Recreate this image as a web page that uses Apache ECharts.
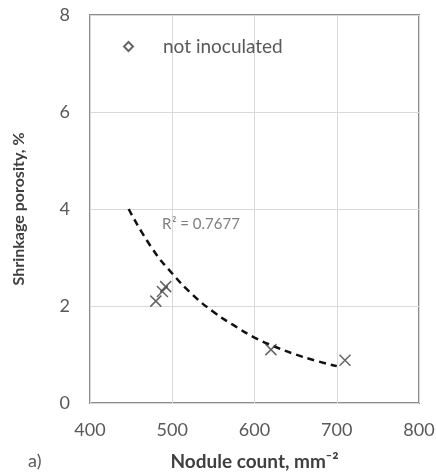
<!DOCTYPE html>
<html><head><meta charset="utf-8">
<script src="https://cdn.jsdelivr.net/npm/echarts@6/dist/echarts.min.js"></script>
<style>html,body{margin:0;padding:0;background:#fff}#c{width:436px;height:472px}</style>
</head><body><div id="c"></div>
<script>
var seriesName = 'not inoculated';
var nodules = [480, 488, 492, 620, 710];
var porosity = [2.1, 2.3, 2.4, 1.1, 0.88];
var trendX = [447, 475, 500, 525, 550, 575, 600, 625, 650, 675, 700];
var trendY = [4.0, 3.2, 2.67, 2.23, 1.88, 1.6, 1.35, 1.16, 1.0, 0.87, 0.76];
var xTicks = [400, 500, 600, 700, 800];
var yTicks = [0, 2, 4, 6, 8];
var r2Text = 'R² = 0.7677';
var xTitle = 'Nodule count, mm⁻²';
var yTitle = 'Shrinkage porosity, %';
var panel = 'a)';

var font = 'Lato, "Open Sans", sans-serif';
var chart = echarts.init(document.getElementById('c'));
chart.setOption({
  animation: false,
  backgroundColor: '#fff',
  grid: {left: 90, right: 17, top: 15, bottom: 69, show: true, borderColor: '#8c8c8c', borderWidth: 2,
         containLabel: false, outerBoundsMode: 'none'},
  legend: {
    data: [{name: seriesName, icon: 'path://M5 0L10 5L5 10L0 5Z'}],
    left: 118, top: 32, itemWidth: 9, itemHeight: 9,
    itemStyle: {color: '#fff', borderColor: '#404040', borderWidth: 2},
    textStyle: {fontFamily: font, fontSize: 19, color: '#595959', padding: [0, 0, 0, 25]}
  },
  xAxis: {
    type: 'value', min: xTicks[0], max: xTicks[xTicks.length - 1], interval: 100,
    axisLine: {show: false}, axisTick: {show: false},
    splitLine: {lineStyle: {color: '#d9d9d9', width: 1}},
    axisLabel: {fontFamily: font, fontSize: 18, color: '#595959', margin: 18},
    name: xTitle, nameLocation: 'middle', nameGap: 49,
    nameTextStyle: {fontFamily: font, fontSize: 19, fontWeight: 'bold', color: '#404040'}
  },
  yAxis: {
    type: 'value', min: yTicks[0], max: yTicks[yTicks.length - 1], interval: 2,
    axisLine: {show: false}, axisTick: {show: false},
    splitLine: {lineStyle: {color: '#d9d9d9', width: 1}},
    axisLabel: {fontFamily: font, fontSize: 18, color: '#595959', margin: 20},
    name: yTitle, nameLocation: 'middle', nameGap: 63,
    nameTextStyle: {fontFamily: font, fontSize: 16, fontWeight: 'bold', color: '#404040'}
  },
  graphic: [
    {type: 'text', left: 28, top: 452, style: {text: panel, fontFamily: font, fontSize: 18, fill: '#595959'}},
    {type: 'text', left: 162, top: 217, style: {text: r2Text, fontFamily: font, fontSize: 15, fill: '#7f7f7f'}}
  ],
  series: [
    {
      name: seriesName, type: 'scatter',
      data: nodules.map(function (x, i) { return [x, porosity[i]]; }),
      symbol: 'path://M0 0L10 10M10 0L0 10', symbolSize: 11,
      itemStyle: {color: 'transparent', borderColor: '#404040', borderWidth: 1.5},
      z: 3
    },
    {
      name: 'trend', type: 'line', smooth: true, symbol: 'none',
      data: trendX.map(function (x, i) { return [x, trendY[i]]; }),
      lineStyle: {color: '#111', width: 2.5, type: [7, 5]},
      z: 2
    }
  ]
});
</script></body></html>
